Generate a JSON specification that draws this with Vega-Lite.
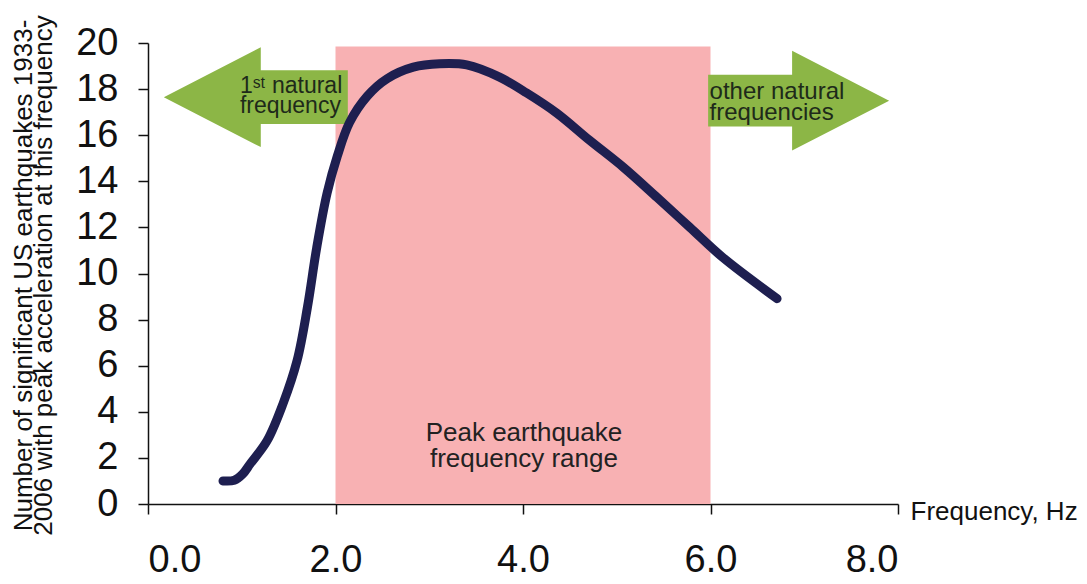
{
  "$schema": "https://vega.github.io/schema/vega-lite/v6.json",
  "width": 750,
  "height": 461,
  "autosize": "none",
  "padding": {"left": 148, "top": 43, "right": 189, "bottom": 80},
  "background": "white",
  "config": {
    "view": {"stroke": null},
    "font": "Liberation Sans",
    "axis": {"grid": false, "domainColor": "#111111", "tickColor": "#111111", "domainWidth": 1.5, "tickWidth": 1.5, "labelColor": "#111111", "titleColor": "#111111", "labelFont": "Liberation Sans", "titleFont": "Liberation Sans"}
  },
  "datasets": {
    "curve": [
      {"f": 0.80, "n": 1.00},
      {"f": 0.92, "n": 1.03},
      {"f": 1.01, "n": 1.30},
      {"f": 1.09, "n": 1.74},
      {"f": 1.27, "n": 2.74},
      {"f": 1.44, "n": 4.35},
      {"f": 1.59, "n": 6.22},
      {"f": 1.70, "n": 8.52},
      {"f": 1.80, "n": 11.13},
      {"f": 1.91, "n": 13.48},
      {"f": 2.02, "n": 15.10},
      {"f": 2.15, "n": 16.55},
      {"f": 2.34, "n": 17.70},
      {"f": 2.55, "n": 18.45},
      {"f": 2.83, "n": 18.95},
      {"f": 3.11, "n": 19.10},
      {"f": 3.40, "n": 19.05},
      {"f": 3.75, "n": 18.52},
      {"f": 4.04, "n": 17.83},
      {"f": 4.36, "n": 16.96},
      {"f": 4.71, "n": 15.78},
      {"f": 5.07, "n": 14.61},
      {"f": 5.43, "n": 13.30},
      {"f": 5.78, "n": 12.00},
      {"f": 6.13, "n": 10.70},
      {"f": 6.71, "n": 8.91}
    ],
    "band": [{"f1": 2, "f2": 6, "n1": 0, "n2": 19.85}],
    "leftArrow": [{"f": 1.15, "n": 17.65}],
    "rightArrow": [{"f": 6.94, "n": 17.5}],
    "leftNote": [{"f": 0.98, "n": 17.84, "label": "1ˢᵗ natural\nfrequency"}],
    "rightNote": [{"f": 5.99, "n": 17.57, "label": "other natural\nfrequencies"}],
    "peak": [{"f": 4.01, "n": 2.74, "label": "Peak earthquake\nfrequency range"}]
  },
  "layer": [
    {
      "data": {"name": "band"},
      "mark": {"type": "rect", "color": "#f8b1b3"},
      "encoding": {
        "x": {"field": "f1", "type": "quantitative", "scale": {"domain": [0, 8], "nice": false},
          "axis": {"values": [0, 2, 4, 6, 8], "format": ".1f", "tickSize": 10, "labelFontSize": 38, "labelPadding": 27, "labelBaseline": "top",
            "title": "Frequency, Hz", "titleFontSize": 26, "titleFontWeight": "normal", "titleX": 762, "titleY": 15, "titleAlign": "left", "titleBaseline": "alphabetic", "titleAnchor": "start"}},
        "x2": {"field": "f2"},
        "y": {"field": "n1", "type": "quantitative", "scale": {"domain": [0, 20], "nice": false},
          "axis": {"values": [0, 2, 4, 6, 8, 10, 12, 14, 16, 18, 20], "tickSize": 10, "labelFontSize": 38, "labelPadding": 20,
            "title": ["Number of significant US earthquakes  1933-", "2006 with peak acceleration at this frequency"],
            "titleFontSize": 26, "titleFontWeight": "normal", "titleLineHeight": 20, "titleX": -112, "titleY": 232, "titleAngle": -90, "titleAlign": "center", "titleBaseline": "bottom"}},
        "y2": {"field": "n2"}
      }
    },
    {
      "data": {"name": "leftArrow"},
      "mark": {"type": "point", "filled": true, "opacity": 1, "color": "#8cb646", "strokeWidth": 0, "size": 33856,
        "shape": "M -1 0 L 0.054 -0.543 L 0.054 -0.293 L 1 -0.293 L 1 0.293 L 0.054 0.293 L 0.054 0.543 Z"},
      "encoding": {
        "x": {"field": "f", "type": "quantitative"},
        "y": {"field": "n", "type": "quantitative"}
      }
    },
    {
      "data": {"name": "rightArrow"},
      "mark": {"type": "point", "filled": true, "opacity": 1, "color": "#8cb646", "strokeWidth": 0, "size": 32761,
        "shape": "M 1 0 L -0.072 -0.552 L -0.072 -0.287 L -1 -0.287 L -1 0.287 L -0.072 0.287 L -0.072 0.552 Z"},
      "encoding": {
        "x": {"field": "f", "type": "quantitative"},
        "y": {"field": "n", "type": "quantitative"}
      }
    },
    {
      "data": {"name": "leftNote"},
      "mark": {"type": "text", "align": "left", "baseline": "alphabetic", "fontSize": 23, "lineHeight": 20, "lineBreak": "\n", "color": "#1e2a1a", "font": "Liberation Sans"},
      "encoding": {
        "x": {"field": "f", "type": "quantitative"},
        "y": {"field": "n", "type": "quantitative"},
        "text": {"field": "label"}
      }
    },
    {
      "data": {"name": "rightNote"},
      "mark": {"type": "text", "align": "left", "baseline": "alphabetic", "fontSize": 24, "lineHeight": 21, "lineBreak": "\n", "color": "#1e2a1a", "font": "Liberation Sans"},
      "encoding": {
        "x": {"field": "f", "type": "quantitative"},
        "y": {"field": "n", "type": "quantitative"},
        "text": {"field": "label"}
      }
    },
    {
      "data": {"name": "curve"},
      "mark": {"type": "line", "color": "#1e1f50", "strokeWidth": 9, "strokeCap": "round", "strokeJoin": "round", "interpolate": "catmull-rom"},
      "encoding": {
        "x": {"field": "f", "type": "quantitative"},
        "y": {"field": "n", "type": "quantitative"}
      }
    },
    {
      "data": {"name": "peak"},
      "mark": {"type": "text", "align": "center", "baseline": "alphabetic", "fontSize": 26, "lineHeight": 26, "lineBreak": "\n", "color": "#222222", "font": "Liberation Sans"},
      "encoding": {
        "x": {"field": "f", "type": "quantitative"},
        "y": {"field": "n", "type": "quantitative"},
        "text": {"field": "label"}
      }
    }
  ]
}
